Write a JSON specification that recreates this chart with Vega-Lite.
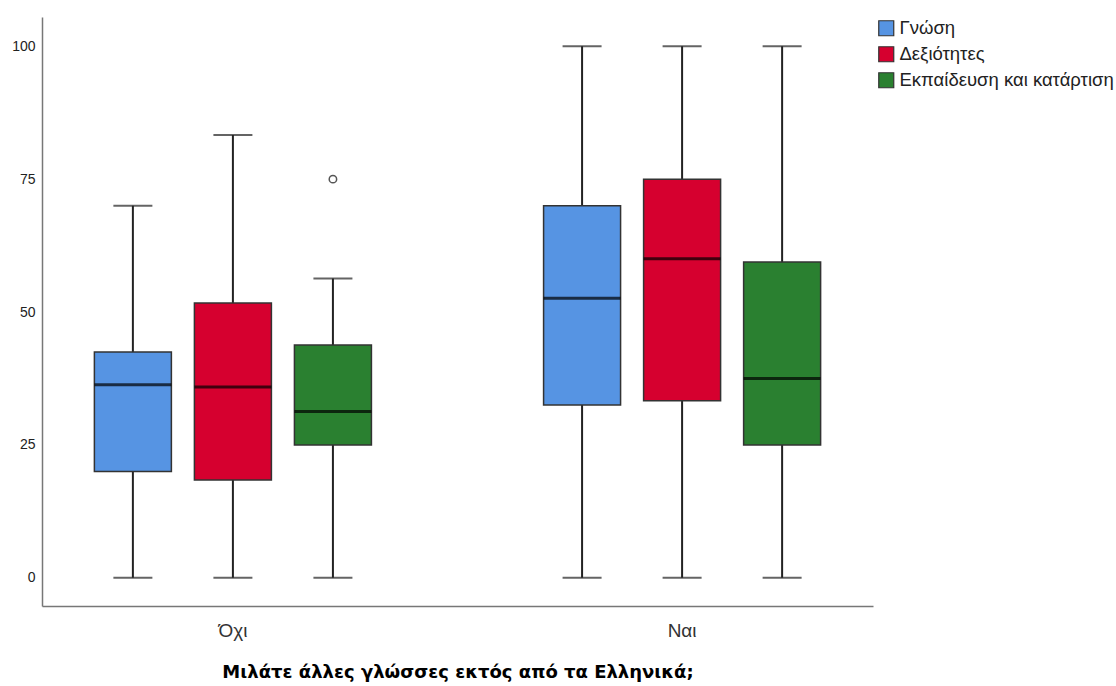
{
  "$schema": "https://vega.github.io/schema/vega-lite/v6.json",
  "autosize": {"type": "none"},
  "padding": {"left": 42, "top": 17, "right": 243, "bottom": 80},
  "width": 831,
  "height": 589,
  "background": "white",
  "config": {
    "view": {"stroke": null},
    "font": "Liberation Sans",
    "axis": {"labelFont": "Liberation Sans", "titleFont": "DejaVu Sans"},
    "legend": {"labelFont": "Liberation Sans"}
  },
  "datasets": {
    "boxes": [
      {"group": "Όχι", "cat": "Γνώση", "lower": 0, "q1": 20, "median": 36.3, "q3": 42.5, "upper": 70},
      {"group": "Όχι", "cat": "Δεξιότητες", "lower": 0, "q1": 18.4, "median": 35.9, "q3": 51.7, "upper": 83.3},
      {"group": "Όχι", "cat": "Εκπαίδευση και κατάρτιση", "lower": 0, "q1": 25, "median": 31.3, "q3": 43.8, "upper": 56.3},
      {"group": "Ναι", "cat": "Γνώση", "lower": 0, "q1": 32.5, "median": 52.6, "q3": 70, "upper": 100},
      {"group": "Ναι", "cat": "Δεξιότητες", "lower": 0, "q1": 33.3, "median": 60, "q3": 75, "upper": 100},
      {"group": "Ναι", "cat": "Εκπαίδευση και κατάρτιση", "lower": 0, "q1": 25, "median": 37.5, "q3": 59.4, "upper": 100}
    ],
    "outliers": [
      {"group": "Όχι", "cat": "Εκπαίδευση και κατάρτιση", "value": 75}
    ]
  },
  "data": {"name": "boxes"},
  "encoding": {
    "x": {
      "field": "group",
      "type": "nominal",
      "sort": ["Όχι", "Ναι"],
      "scale": {"paddingInner": 0.332, "paddingOuter": 0.091},
      "axis": {
        "title": "Μιλάτε άλλες γλώσσες εκτός από τα Ελληνικά;",
        "titleFontSize": 18,
        "titleFontWeight": "bold",
        "titleColor": "#000000",
        "titlePadding": 23,
        "labelAngle": 0,
        "labelFontSize": 19,
        "labelColor": "#333333",
        "labelPadding": 15,
        "ticks": false,
        "domainColor": "#777777",
        "domainWidth": 1.5,
        "grid": false
      }
    },
    "xOffset": {
      "field": "cat",
      "type": "nominal",
      "sort": ["Γνώση", "Δεξιότητες", "Εκπαίδευση και κατάρτιση"],
      "scale": {"paddingInner": 0, "paddingOuter": 0}
    }
  },
  "layer": [
    {
      "mark": {"type": "rule", "color": "#222222", "strokeWidth": 2},
      "encoding": {
        "y": {
          "field": "lower",
          "type": "quantitative",
          "scale": {"domain": [-5.3, 105.5], "nice": false, "zero": false},
          "axis": {
            "title": null,
            "values": [0, 25, 50, 75, 100],
            "ticks": false,
            "grid": false,
            "labelFontSize": 14,
            "labelColor": "#222222",
            "labelPadding": 7,
            "domainColor": "#777777",
            "domainWidth": 1.5
          }
        },
        "y2": {"field": "upper"}
      }
    },
    {
      "mark": {"type": "tick", "color": "#222222", "thickness": 2, "size": 39},
      "encoding": {"y": {"field": "lower", "type": "quantitative"}}
    },
    {
      "mark": {"type": "tick", "color": "#222222", "thickness": 2, "size": 39},
      "encoding": {"y": {"field": "upper", "type": "quantitative"}}
    },
    {
      "mark": {"type": "bar", "size": 77, "stroke": "#333333", "strokeWidth": 1.5},
      "encoding": {
        "y": {"field": "q1", "type": "quantitative"},
        "y2": {"field": "q3"},
        "fill": {
          "field": "cat",
          "type": "nominal",
          "sort": ["Γνώση", "Δεξιότητες", "Εκπαίδευση και κατάρτιση"],
          "scale": {
            "domain": ["Γνώση", "Δεξιότητες", "Εκπαίδευση και κατάρτιση"],
            "range": ["#5694E3", "#D6002F", "#2A8030"]
          },
          "legend": {
            "title": null,
            "orient": "none",
            "legendX": 835,
            "legendY": 2,
            "padding": 0,
            "symbolType": "square",
            "symbolSize": 225,
            "symbolStrokeColor": "#333333",
            "symbolStrokeWidth": 1.2,
            "symbolOpacity": 1,
            "labelFontSize": 18.5,
            "labelLimit": 400,
            "labelColor": "#222222",
            "labelOffset": 4,
            "rowPadding": 5
          }
        }
      }
    },
    {
      "mark": {"type": "tick", "color": "#000000", "thickness": 3, "size": 77},
      "encoding": {"y": {"field": "median", "type": "quantitative"}}
    },
    {
      "data": {"name": "outliers"},
      "mark": {"type": "point", "shape": "circle", "filled": false, "size": 55, "stroke": "#555555", "strokeWidth": 1.5, "opacity": 1},
      "encoding": {"y": {"field": "value", "type": "quantitative"}}
    }
  ]
}
